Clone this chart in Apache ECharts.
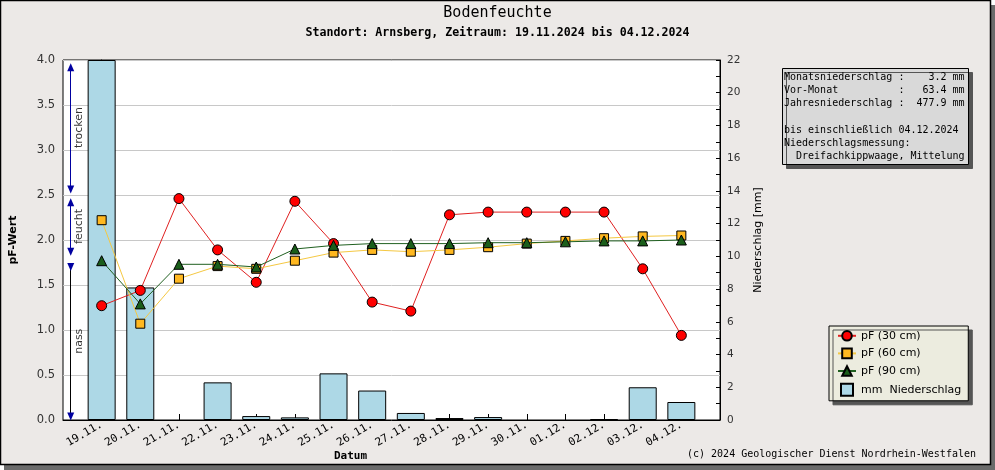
<!DOCTYPE html>
<html>
<head>
<meta charset="utf-8">
<script src="https://cdn.jsdelivr.net/npm/echarts@6/dist/echarts.min.js"></script>
<style>html,body{margin:0;padding:0;background:#fff}#c{width:995px;height:470px}</style>
</head>
<body>
<div id="c"></div>
<script>
const categories = ['19.11.','20.11.','21.11.','22.11.','23.11.','24.11.','25.11.','26.11.','27.11.','28.11.','29.11.','30.11.','01.12.','02.12.','03.12.','04.12.'];
const pf30 = [1.27,1.44,2.46,1.89,1.53,2.43,1.96,1.31,1.21,2.28,2.31,2.31,2.31,2.31,1.68,0.94];
const pf60 = [2.22,1.07,1.57,1.71,1.68,1.77,1.86,1.89,1.87,1.89,1.92,1.96,1.99,2.02,2.04,2.05];
const pf90 = [1.77,1.29,1.73,1.73,1.70,1.90,1.94,1.96,1.96,1.96,1.97,1.97,1.98,1.99,1.99,2.00];
const rain = [22,8.1,0,2.3,0.24,0.16,2.85,1.8,0.43,0.12,0.18,0,0,0.06,2.0,1.1];
const zoneNames = ['trocken','feucht','nass'];
const zoneLabelPos = [3.25,2.15,0.875];

const MONO = '"DejaVu Sans Mono", "Liberation Mono", monospace';
const SANS = '"DejaVu Sans", Verdana, sans-serif';
const idx = categories.map((c,i)=>i);
const toXY = arr => arr.map((v,i)=>[i, v === 0 ? null : v]);
const toXYLine = arr => arr.map((v,i)=>[i,v]);

const chart = echarts.init(document.getElementById('c'), null, {renderer:'canvas'});
const arrowX = -0.8;
const blue = '#0000a0';

const option = {
  animation:false,
  backgroundColor:'#ffffff',
  graphic:[
    {type:'rect', z:-10, shape:{x:4,y:5,width:991,height:465}, style:{fill:'#6b6b6b'}},
    {type:'rect', z:-9, shape:{x:0.5,y:0.5,width:990,height:464}, style:{fill:'#ece9e7', stroke:'#000', lineWidth:1.5}}
  ],
  title:[
    {text:'Bodenfeuchte', left:'center', top:6, padding:0, textStyle:{fontFamily:MONO,fontSize:15,fontWeight:'normal',color:'#000'}},
    {text:'Standort: Arnsberg, Zeitraum: 19.11.2024 bis 04.12.2024', left:'center', top:27, padding:0, textStyle:{fontFamily:MONO,fontSize:11.6,fontWeight:'bold',color:'#000'}},
    {text:'Datum', left:334, top:451, padding:0, textStyle:{fontFamily:MONO,fontSize:11,fontWeight:'bold',color:'#000'}},
    {text:'(c) 2024 Geologischer Dienst Nordrhein-Westfalen', left:687, top:449, padding:0, textStyle:{fontFamily:MONO,fontSize:10,fontWeight:'normal',color:'#000'}},
    {text:'Monatsniederschlag :    3.2 mm\nVor-Monat          :   63.4 mm\nJahresniederschlag :  477.9 mm\n \nbis einschließlich 04.12.2024\nNiederschlagsmessung:\n  Dreifachkippwaage, Mittelung',
     left:782, top:68, padding:[3,4,2,2], backgroundColor:'#d9d9d9', borderColor:'#000', borderWidth:1,
     shadowColor:'#555', shadowOffsetX:4, shadowOffsetY:4, shadowBlur:0,
     textStyle:{fontFamily:MONO,fontSize:10,fontWeight:'normal',color:'#000',lineHeight:13.1}}
  ],
  legend:{
    orient:'vertical', left:829, top:326, padding:[4,7,4,8], itemGap:6, itemWidth:18, itemHeight:12,
    backgroundColor:'#ececdf', borderColor:'#000', borderWidth:1,
    shadowColor:'#555', shadowOffsetX:4, shadowOffsetY:4, shadowBlur:0,
    textStyle:{fontFamily:SANS,fontSize:11,color:'#000'},
    data:[
      {name:'pF (30 cm)'},
      {name:'pF (60 cm)'},
      {name:'pF (90 cm)'},
      {name:'mm  Niederschlag', icon:'path://M0,0 L10,0 L10,10 L0,10 Z'}
    ]
  },
  grid:{left:60, right:275, top:60, bottom:50, show:true, backgroundColor:'#fff', borderColor:'#000', borderWidth:1},
  xAxis:{
    type:'value', min:-1, max:16, interval:1,
    axisLine:{show:true, onZero:false, lineStyle:{color:'#000',width:1}},
    axisTick:{show:true, inside:true, length:6, customValues:idx, lineStyle:{color:'#000'}},
    axisLabel:{customValues:idx, rotate:30, fontFamily:MONO, fontSize:11, color:'#000', margin:4,
      formatter:v=>categories[Math.round(v)] || ''},
    splitLine:{show:false}
  },
  yAxis:[
    {type:'value', min:0, max:4, interval:0.5, position:'left',
     name:'pF-Wert', nameLocation:'middle', nameGap:44,
     nameTextStyle:{fontFamily:SANS,fontSize:11,fontWeight:'bold',color:'#000'},
     axisLine:{show:true, lineStyle:{color:'#000'}},
     axisTick:{show:true, inside:true, length:5, lineStyle:{color:'#000'}},
     minorTick:{show:true, splitNumber:5, length:3, lineStyle:{color:'#000'}},
     axisLabel:{fontFamily:SANS, fontSize:11.5, color:'#333', margin:8, formatter:v=>v.toFixed(1)},
     splitLine:{show:true, lineStyle:{color:'#c8c8c8', width:1}}
    },
    {type:'value', min:0, max:22, interval:2, position:'right',
     name:'Niederschlag [mm]', nameLocation:'middle', nameGap:33,
     nameTextStyle:{fontFamily:SANS,fontSize:11,color:'#000'},
     axisLine:{show:true, lineStyle:{color:'#000'}},
     axisTick:{show:true, inside:true, length:4, lineStyle:{color:'#000'}},
     minorTick:{show:true, splitNumber:2, length:4, lineStyle:{color:'#000'}},
     axisLabel:{fontFamily:SANS, fontSize:10.5, color:'#333', margin:7},
     splitLine:{show:false}
    }
  ],
  series:[
    {name:'mm  Niederschlag', type:'bar', yAxisIndex:1, barWidth:28, data:toXY(rain), z:1,
     itemStyle:{color:'#add8e6', borderColor:'#000', borderWidth:1}},
    {name:'pF (30 cm)', type:'line', yAxisIndex:0, data:toXYLine(pf30), z:3,
     symbol:'circle', symbolSize:10, showAllSymbol:true,
     lineStyle:{color:'#e02020', width:1}, itemStyle:{color:'#ff0000', borderColor:'#000', borderWidth:1}},
    {name:'pF (60 cm)', type:'line', yAxisIndex:0, data:toXYLine(pf60), z:4,
     symbol:'rect', symbolSize:9, showAllSymbol:true,
     lineStyle:{color:'#f5c842', width:1}, itemStyle:{color:'#ffb820', borderColor:'#000', borderWidth:1}},
    {name:'pF (90 cm)', type:'line', yAxisIndex:0, data:toXYLine(pf90), z:5,
     symbol:'triangle', symbolSize:10, showAllSymbol:true,
     lineStyle:{color:'#206020', width:1}, itemStyle:{color:'#1a5e1a', borderColor:'#000', borderWidth:1}},
    {name:'zones', type:'scatter', yAxisIndex:0, z:6, symbolSize:0, silent:true,
     data:zoneLabelPos.map((y,i)=>({value:[-0.57,y], label:{formatter:zoneNames[i]}})),
     label:{show:true, position:'inside', rotate:90, fontFamily:SANS, fontSize:11, color:'#000'},
     markLine:{silent:true, symbol:['triangle','triangle'], symbolSize:[7,8], precision:3,
       label:{show:false},
       data:[
         [{coord:[arrowX,3.92], lineStyle:{color:blue,width:1,type:'solid'}},{coord:[arrowX,2.56]}],
         [{coord:[arrowX,2.42], lineStyle:{color:blue,width:1,type:'solid'}},{coord:[arrowX,1.87]}],
         [{coord:[arrowX,1.72], lineStyle:{color:'#000',width:1,type:'solid'}, symbol:'none'},{coord:[arrowX,0.04], symbol:'none'}],
         [{coord:[arrowX,1.70], lineStyle:{color:blue,width:1,type:'solid'}, symbol:'triangle'},{coord:[arrowX,1.72], symbol:'none'}],
         [{coord:[arrowX,0.06], lineStyle:{color:blue,width:1,type:'solid'}, symbol:'none'},{coord:[arrowX,0.04], symbol:'triangle'}]
       ]}
    }
  ]
};
chart.setOption(option);
</script>
</body>
</html>
